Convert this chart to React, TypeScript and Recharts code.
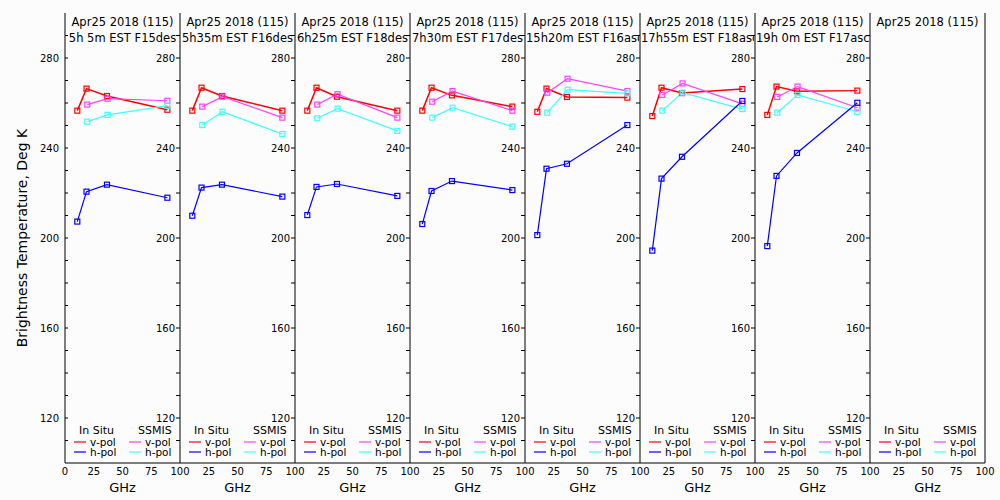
import React from "react";
import { LineChart, Line, XAxis, YAxis, ReferenceLine } from "recharts";

const dateLabel = "Apr25 2018 (115)";
const passLabels = [
  "5h 5m EST F15des",
  "5h35m EST F16des",
  "6h25m EST F18des",
  "7h30m EST F17des",
  "15h20m EST F16asc",
  "17h55m EST F18asc",
  "19h 0m EST F17asc",
  "",
];

const inSituFreq = [10.7, 18.7, 36.5, 89];
const ssmisFreq = [19.35, 37, 89];

// in situ radiometer, v-pol / h-pol
const inSituV = [
  [256.6, 266.4, 263.1, 257.0],
  [256.6, 266.8, 263.1, 256.6],
  [256.6, 266.8, 262.8, 256.6],
  [256.6, 266.8, 263.4, 258.4],
  [256.1, 266.4, 262.7, 262.4],
  [254.2, 266.8, 264.4, 266.2],
  [254.7, 267.3, 265.2, 265.5],
  [],
];
const inSituH = [
  [207.3, 220.6, 223.7, 217.9],
  [209.9, 222.4, 223.7, 218.4],
  [210.2, 222.7, 224.0, 218.7],
  [206.2, 220.9, 225.3, 221.3],
  [201.3, 230.8, 233.0, 250.2],
  [194.4, 226.4, 236.1, 260.9],
  [196.4, 227.6, 237.8, 260.1],
  [],
];
// SSMIS overpass, v-pol / h-pol
const ssmisV = [
  [259.3, 261.9, 261.0],
  [258.4, 262.8, 253.5],
  [259.3, 263.9, 253.5],
  [260.6, 265.3, 256.6],
  [264.6, 270.8, 265.3],
  [263.6, 268.7, 259.6],
  [262.7, 267.3, 257.9],
  [],
];
const ssmisH = [
  [251.7, 254.7, 258.8],
  [250.2, 256.1, 246.2],
  [253.2, 257.5, 247.6],
  [253.5, 257.9, 249.5],
  [255.7, 265.9, 264.3],
  [256.6, 264.6, 257.3],
  [255.7, 263.6, 256.1],
  [],
];

const xTicks = [0, 25, 50, 75, 100];
const yLabelTicks = [120, 160, 200, 240, 280];
const yMinorTicks = [110, 120, 130, 140, 150, 160, 170, 180, 190, 200, 210, 220, 230, 240, 250, 260, 270, 280, 290];

const COL = { isV: "#ff0000", isH: "#0000ff", ssV: "#ff40ff", ssH: "#40ffff" };
const LEFT = 65;
const PW = 115;
const PAD = 12;
const FONT = "'DejaVu Sans', sans-serif";

function buildRows(i: number) {
  const m = new Map<number, any>();
  const row = (f: number) => {
    if (!m.has(f)) m.set(f, { f });
    return m.get(f);
  };
  inSituFreq.forEach((f, k) => {
    row(f).isV = inSituV[i][k] ?? null;
    row(f).isH = inSituH[i][k] ?? null;
  });
  ssmisFreq.forEach((f, k) => {
    row(f).ssV = ssmisV[i][k] ?? null;
    row(f).ssH = ssmisH[i][k] ?? null;
  });
  return [...m.values()].sort((a, b) => a.f - b.f);
}

const squareDot = (color: string) => (p: any) => {
  if (p.value == null || p.cx == null || p.cy == null) return <g key={p.key ?? p.index} />;
  return (
    <rect key={p.key ?? p.index} x={p.cx - 2.5} y={p.cy - 2.5} width={5} height={5} fill="none" stroke={color} strokeWidth={1.2} />
  );
};

function Panel({ i }: { i: number }) {
  const first = i === 0;
  const last = i === passLabels.length - 1;
  const padL = first ? LEFT : PAD;
  const series = ["isV", "ssV", "ssH", "isH"] as const;
  return (
    <div style={{ position: "absolute", left: LEFT + PW * i - padL, top: 0 }}>
      <LineChart width={PW + padL + PAD} height={500} data={buildRows(i)} margin={{ top: 13, right: PAD, bottom: 0, left: padL }}>
        <XAxis
          xAxisId="b"
          type="number"
          dataKey="f"
          domain={[0, 100]}
          ticks={first ? xTicks : xTicks.slice(1)}
          interval={0}
          height={37}
          tickSize={0}
          tickMargin={5}
          axisLine={{ stroke: "#000" }}
          tick={{ fontSize: 10, fill: "#000" }}
          label={{ value: "GHz", position: "insideBottom", offset: 8, fontSize: 13, fill: "#000" }}
        />
        <XAxis
          xAxisId="t"
          orientation="top"
          type="number"
          dataKey="f"
          domain={[0, 100]}
          ticks={[25, 50, 75]}
          interval={0}
          height={0}
          tickSize={4}
          tickFormatter={() => ""}
          axisLine={{ stroke: "#000" }}
          tickLine={{ stroke: "#000" }}
        />
        <YAxis
          yAxisId="r"
          orientation="right"
          type="number"
          mirror
          domain={[100, 300]}
          ticks={yMinorTicks}
          interval={0}
          tickSize={4}
          tickMargin={1}
          tickFormatter={(v: number) => (!last && yLabelTicks.includes(v) ? String(v) : "")}
          axisLine={{ stroke: "#000" }}
          tickLine={{ stroke: "#000" }}
          tick={{ fontSize: 10, fill: "#000" }}
        />
        {/* outer left border of the first panel, with inward ticks and labels outside */}
        {first && <ReferenceLine xAxisId="b" yAxisId="r" x={0} stroke="#000" strokeWidth={1} />}
        {first &&
          yMinorTicks.map((v) => (
            <ReferenceLine
              key={"lt" + v}
              xAxisId="b"
              yAxisId="r"
              segment={[
                { x: 0, y: v },
                { x: 2.6, y: v },
              ]}
              stroke="#000"
              strokeWidth={1}
              label={
                yLabelTicks.includes(v)
                  ? { value: String(v), position: "left", offset: 6, fontSize: 10, fill: "#000" }
                  : undefined
              }
            />
          ))}
        {series.map((k) => (
          <Line
            key={k}
            xAxisId="b"
            yAxisId="r"
            dataKey={k}
            type="linear"
            stroke={COL[k]}
            strokeWidth={k === "isV" ? 1.5 : 1.2}
            connectNulls
            dot={squareDot(COL[k])}
            activeDot={false}
            isAnimationActive={false}
          />
        ))}
      </LineChart>
    </div>
  );
}

function YTitle() {
  return (
    <svg width={44} height={500} style={{ position: "absolute", left: 0, top: 0 }}>
      <text
        x={22}
        y={238}
        transform="rotate(-90 22 238)"
        textAnchor="middle"
        dominantBaseline="central"
        fontSize={14}
        fill="#000"
      >
        Brightness Temperature, Deg K
      </text>
    </svg>
  );
}

function PanelLegend({ i }: { i: number }) {
  const rows = [
    { y: 442, l: COL.isV, r: COL.ssV, t: "v-pol" },
    { y: 452, l: COL.isH, r: COL.ssH, t: "h-pol" },
  ];
  return (
    <svg
      width={PW}
      height={40}
      style={{ position: "absolute", left: LEFT + PW * i, top: 420, fontFamily: FONT }}
    >
      <text x={14} y={14} fontSize={11}>In Situ</text>
      <text x={73} y={14} fontSize={11}>SSMIS</text>
      {rows.map((r) => (
        <g key={r.t}>
          <line x1={9} x2={21} y1={r.y - 420} y2={r.y - 420} stroke={r.l} strokeWidth={1.2} />
          <text x={25} y={r.y - 420 + 4} fontSize={10.5}>{r.t}</text>
          <line x1={64} x2={76} y1={r.y - 420} y2={r.y - 420} stroke={r.r} strokeWidth={1.2} />
          <text x={80} y={r.y - 420 + 4} fontSize={10.5}>{r.t}</text>
        </g>
      ))}
    </svg>
  );
}

function PanelTitle({ i }: { i: number }) {
  return (
    <div
      style={{
        position: "absolute",
        left: LEFT + PW * i + 1,
        top: 14,
        width: PW - 2,
        overflow: "hidden",
        whiteSpace: "nowrap",
        textAlign: "center",
        fontSize: 11.5,
        lineHeight: "16px",
        color: "#000",
      }}
    >
      <div>{dateLabel}</div>
      <div>{passLabels[i]}</div>
    </div>
  );
}

export default function App() {
  return (
    <div
      style={{
        position: "absolute",
        left: 0,
        top: 0,
        width: 1000,
        height: 500,
        background: "#fcfcfc",
        fontFamily: FONT,
        overflow: "hidden",
      }}
    >
      <YTitle />
      {passLabels.map((_, i) => (
        <Panel key={i} i={i} />
      ))}
      {passLabels.map((_, i) => (
        <PanelLegend key={"lg" + i} i={i} />
      ))}
      {passLabels.map((_, i) => (
        <PanelTitle key={"tt" + i} i={i} />
      ))}
    </div>
  );
}
